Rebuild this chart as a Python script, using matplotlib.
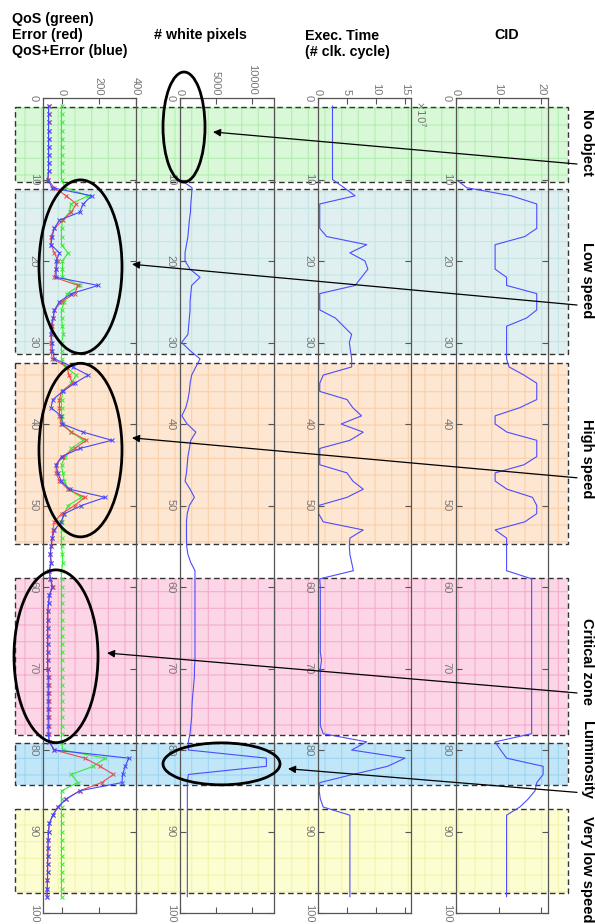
import numpy as np
import matplotlib
matplotlib.use("Agg")
import matplotlib.pyplot as plt
from matplotlib.patches import Rectangle, Ellipse, FancyArrowPatch
from matplotlib.transforms import blended_transform_factory

plt.rcParams['font.family'] = ['Liberation Sans', 'DejaVu Sans']
plt.rcParams['hatch.linewidth'] = 0.8

# ---------------- data (frames 1..98) ----------------
frames = np.arange(1, 99)

qos = [0, 0, 0, 0, 0, 0, 0, 0, 0, 0,
       20, 144, 50, 44, 5, 0, 0, 0, 35, 5,
       5, 5, 100, 30, 15, 0, 0, 5, 10, 0,
       0, 0, 20, 80, 53, 7, 0, 0, 0, 10,
       53, 117, 53, 20, 0, 7, 16, 35, 108, 35,
       16, 0, 0, 0, 0, 5, 7, 0, 0, 0,
       0, 0, 0, 0, 0, 0, 0, 0, 0, 0,
       0, 0, 0, 0, 0, 0, 0, 0, 0, 7,
       236, 172, 53, 89, 0, 0, 0, 0, 0, 0,
       0, 0, 0, 0, 0, 0, 0, 0]

error = [-70, -70, -70, -70, -70, -70, -70, -70, -70, -72,
         -40, 26, 80, 53, 7, -38, -57, -57, -38, -20,
         -30, -38, 89, 71, 0, -38, -45, -50, -57, -57,
         -57, -50, 30, 40, 60, 0, -11, -11, -11, -2,
         53, 135, 71, 7, -29, -29, -11, 35, 126, 71,
         0, -38, -47, -50, -55, -62, -57, -65, -60, -47,
         -65, -70, -73, -73, -74, -74, -74, -74, -74, -74,
         -68, -68, -68, -68, -68, -68, -68, -68, -66, -38,
         126, 208, 281, 217, 99, 26, -20, -47, -66, -70,
         -72, -73, -74, -75, -75, -76, -77, -78]

qos_error = [-70, -70, -70, -70, -70, -70, -70, -70, -70, -75,
             -50, 163, 117, 99, -11, -40, -50, -57, -11, -29,
             -29, -29, 199, 53, -11, -38, -45, -57, -57, -50,
             -50, -38, 60, 144, 71, 7, -47, -57, -2, 5,
             117, 272, 99, 0, -29, -20, -2, 44, 236, 108,
             16, -2, -38, -50, -57, -60, -55, -66, -60, -50,
             -66, -70, -75, -75, -75, -75, -75, -75, -75, -75,
             -72, -72, -72, -72, -72, -72, -72, -72, -66, -40,
             363, 345, 330, 327, 99, 26, -20, -47, -66, -70,
             -72, -73, -74, -75, -75, -76, -77, -78]

white_pixels = [0, 0, 0, 0, 0, 0, 0, 0, 0, 0,
                1670, 1600, 1500, 1450, 1300, 1200, 1100, 900, 700, 700,
                1400, 2780, 1620, 1500, 1400, 1400, 1300, 1200, 1100, 230,
                1400, 2780, 2200, 1620, 1400, 1300, 1100, 800, 250, 1000,
                2200, 1500, 1300, 1100, 1000, 900, 700, 1400, 2000, 1300,
                1000, 900, 900, 900, 925, 1100, 1500, 2080, 2080, 2080,
                2080, 2080, 2080, 2080, 2080, 2080, 2080, 2080, 2080, 2000,
                2000, 1900, 1800, 1700, 1650, 1620, 1500, 1390, 1160, 1160,
                12000, 12000, 1160, 1020, 1020, 1020, 1020, 1020, 1020, 1020,
                1020, 1020, 1020, 1020, 1020, 1020, 1020, 1020]

exec_time = [2.5, 2.5, 2.5, 2.5, 2.5, 2.5, 2.5, 2.5, 2.5, 2.5,
             4.5, 6.4, 0.3, 0.3, 0.3, 0.3, 1.5, 8.4, 5.5, 8.1,
             8.6, 7.5, 6.4, 0.3, 0.3, 0.3, 3.0, 4.4, 5.8, 5.4,
             5.6, 5.8, 5.8, 0.9, 0.3, 0.3, 5.0, 6.0, 7.5, 4.0,
             7.8, 5.5, 0.3, 0.3, 0.3, 5.0, 6.0, 7.8, 5.0, 0.1,
             0.1, 0.9, 7.8, 5.5, 5.4, 5.5, 5.8, 6.1, 0.3, 0.4,
             0.4, 0.4, 0.4, 0.4, 0.4, 0.4, 0.4, 0.4, 0.6, 0.4,
             0.4, 0.4, 0.4, 0.4, 0.4, 0.4, 0.4, 0.9, 8.4, 5.8,
             15.0, 12.0, 6.0, 0.3, 0.2, 0.4, 0.9, 5.5, 5.5, 5.5,
             5.5, 5.5, 5.5, 5.5, 5.5, 5.5, 5.5, 5.5]  # x 1e7 clock cycles

cid = [0, 0, 0, 0, 0, 0, 0, 0, 0, 0,
       2.5, 13, 19, 19, 19, 19, 16.2, 9.2, 9.2, 9.2,
       9.2, 11.9, 11.9, 19, 19, 19, 16.6, 11.9, 11.9, 11.9,
       11.9, 11.9, 12.5, 16, 19, 19, 19, 15, 9.2, 9.2,
       12, 19, 19, 19, 16, 9.2, 9.2, 12, 18, 19,
       19, 16.2, 9.2, 11.9, 11.9, 11.9, 11.9, 11.9, 17.8, 17.8,
       17.8, 17.8, 17.8, 17.8, 17.8, 17.8, 17.8, 17.8, 17.8, 17.8,
       17.8, 17.8, 17.8, 17.8, 17.8, 17.8, 17.8, 17.8, 9.2, 10.5,
       11.9, 20.5, 20.5, 19, 18.6, 17, 15, 11.9, 11.9, 11.9,
       11.9, 11.9, 11.9, 11.9, 11.9, 11.9, 11.9, 11.9]

region_names = ['No object', 'Low speed', 'High speed', 'Critical zone',
                'Luminosity', 'Very low speed']
region_start = [1.1, 11.2, 32.5, 58.9, 79.1, 87.2]
region_end = [10.3, 31.4, 54.7, 78.2, 84.3, 97.5]
label_pos = [5.4, 22.3, 44.3, 69.1, 81.2, 94.6]
region_fill = ['#d8f8d8', '#e0f0f0', '#fde6d2', '#fcd6e6', '#c0e6f8', '#fdfdd2']
region_grid = ['#b4eeb4', '#c6e4e4', '#fbd0aa', '#f6acce', '#9fd6f2', '#f3f3ae']

titles = ['QoS (green)\nError (red)\nQoS+Error (blue)', '# white pixels',
          'Exec. Time\n(# clk. cycle)', 'CID']

# ---------------- layout ----------------
W, H = 595, 924
fig = plt.figure(figsize=(W / 100, H / 100), dpi=100)


def px_rect(x0, x1, y0=98, y1=913):
    return [x0 / W, 1 - y1 / H, (x1 - x0) / W, (y1 - y0) / H]


panel_px = [(43, 135.5), (180, 273.6), (318, 410.8), (456, 547.8)]
xlims = [(-100, 400), (0, 13000), (0, 16), (0, 21.6)]
xticks = [[0, 200, 400], [0, 5000, 10000], [0, 5, 10, 15], [0, 10, 20]]

axes = []
for (x0, x1), xl, xt in zip(panel_px, xlims, xticks):
    ax = fig.add_axes(px_rect(x0, x1))
    ax.set_facecolor('none')
    ax.set_xlim(*xl)
    ax.set_ylim(100, 0)
    ax.set_xticks(xt)
    ax.set_yticks(np.arange(0, 101, 10))
    ax.tick_params(axis='both', direction='in', length=4, color='#555555',
                   labelcolor='#777777', labelsize=8, width=0.8,
                   top=True, bottom=True, left=True, right=True,
                   labeltop=True, labelbottom=False, labelleft=True, labelright=False)
    ax.tick_params(axis='x', pad=2, labelrotation=-90)
    ax.tick_params(axis='y', pad=3, labelrotation=-90)
    for lab in ax.get_yticklabels():
        lab.set_va('center')
    for s in ax.spines.values():
        s.set_color('#555555')
        s.set_linewidth(0.9)
    axes.append(ax)

ax1, ax2, ax3, ax4 = axes

# QoS / Error / QoS+Error
mk = dict(marker='x', markersize=3.5, markeredgewidth=0.7, lw=0.8)
ax1.plot(qos, frames, color='#33ee33', **mk)
ax1.plot(error, frames, color='#ee4a4a', **mk)
ax1.plot(qos_error, frames, color='#4646ff', **mk)

ax2.plot(white_pixels, frames, color='#4c4cff', lw=0.8)
ax3.plot(exec_time, frames, color='#4c4cff', lw=0.8)
ax4.plot(cid, frames, color='#4c4cff', lw=0.8)

# ---------------- regions ----------------
trans = blended_transform_factory(fig.transFigure, ax1.transData)
rx0, rx1 = 15 / W, 568 / W
for f0, f1, fc, gc in zip(region_start, region_end, region_fill, region_grid):
    fig.add_artist(Rectangle((rx0, f0), rx1 - rx0, f1 - f0, transform=trans,
                             facecolor=fc, edgecolor=gc, hatch='+', lw=0, zorder=-3))
    fig.add_artist(Rectangle((rx0, f0), rx1 - rx0, f1 - f0, transform=trans,
                             fill=False, edgecolor='#333333', lw=1.0,
                             linestyle=(0, (4, 2.5)), zorder=-2))

for name, fpos in zip(region_names, label_pos):
    fig.text(587 / W, fpos, name, transform=trans, rotation=-90, ha='center',
             va='center', fontsize=10.5, fontweight='bold', zorder=6)

# ---------------- ellipses & arrows ----------------
ell_cx = [184, 80.5, 80.5, 56, 221.5]
ell_cf = [3.56, 20.7, 43.2, 68.5, 81.7]
ell_w = [42, 83, 83, 84, 117]
ell_h = [13.5, 21.3, 21.3, 21.2, 5.15]
for cx, cf, w, h in zip(ell_cx, ell_cf, ell_w, ell_h):
    fig.add_artist(Ellipse((cx / W, cf), w / W, h, transform=trans, fill=False,
                           edgecolor='black', lw=2.0, zorder=5))

arr_tail_f = [8.1, 25.4, 46.6, 73.0, 85.2]
arr_head_x = [213, 132, 132, 107, 288]
arr_head_f = [4.17, 20.4, 41.7, 68.1, 82.3]
for tf, hx, hf in zip(arr_tail_f, arr_head_x, arr_head_f):
    fig.add_artist(FancyArrowPatch((577 / W, tf), (hx / W, hf), transform=trans,
                                   arrowstyle='-|>', mutation_scale=11, lw=0.9,
                                   color='black', shrinkA=0, shrinkB=0, zorder=5))

# ---------------- titles ----------------
fig.text(12 / W, 1 - 35 / H, titles[0], ha='left', va='center', fontsize=10.3,
         fontweight='bold', linespacing=1.2)
fig.text(200 / W, 1 - 35 / H, titles[1], ha='center', va='center', fontsize=10.3,
         fontweight='bold')
fig.text(305 / W, 1 - 44 / H, titles[2], ha='left', va='center', fontsize=10.3,
         fontweight='bold', linespacing=1.2)
fig.text(507 / W, 1 - 35 / H, titles[3], ha='center', va='center', fontsize=10.3,
         fontweight='bold')

fig.text(421 / W, 1 - 100 / H, r'$\times10^{7}$', rotation=-90, ha='center', va='top',
         fontsize=7.5, color='#777777')

fig.savefig('out.png', dpi=100)
